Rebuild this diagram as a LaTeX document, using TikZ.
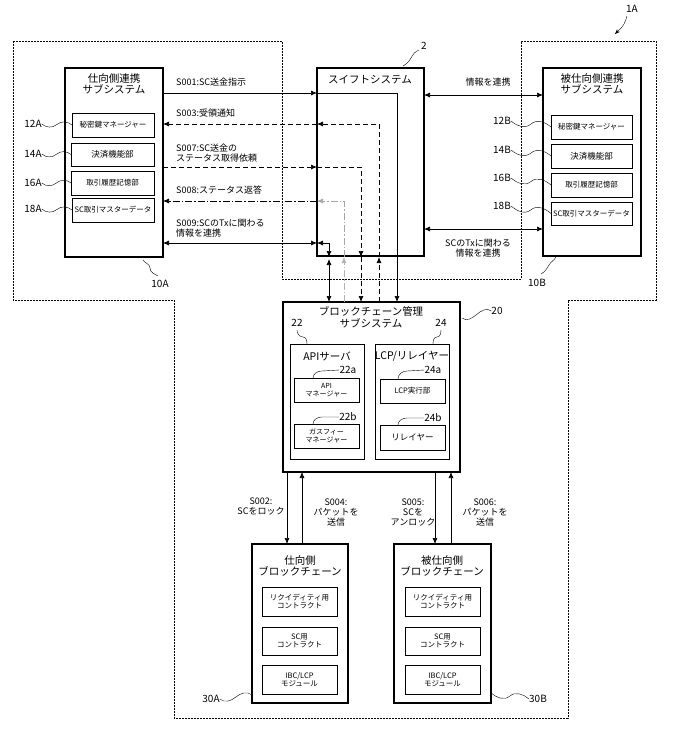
\documentclass[tikz,border=0pt]{standalone}
\usepackage{fontspec}
\setmainfont{Noto Sans CJK JP}
\usetikzlibrary{arrows.meta,calc}
\newcommand\bx[7]{\node[#6,minimum width={(#4-#2)*1pt},minimum height={(#5-#3)*1pt}] (#1) at ({(#2+#4)/2},{(#3+#5)/2}) {#7};}
\newcommand\wv[2]{\draw[thin] #1 to[out=-40,in=220] ($#1!0.5!#2$) to[out=40,in=140] #2;}
\begin{document}
\begin{tikzpicture}[x=1pt,y=-1pt,
 big/.style={draw,line width=1.8pt,inner sep=0pt,outer sep=0pt},
 mid/.style={draw,line width=0.8pt,inner sep=0pt,outer sep=0pt},
 sm/.style={draw,line width=0.8pt,inner sep=0pt,outer sep=0pt,font=\fontsize{7.5}{8}\selectfont,align=center},
 tt/.style={font=\fontsize{10.5}{11.5}\selectfont,align=center,inner sep=0pt},
 lb/.style={font=\fontsize{9}{10}\selectfont,align=left,inner sep=0pt,anchor=west},
 cl/.style={font=\fontsize{10}{10}\selectfont,inner sep=0pt},
 ar/.style={-{Latex[length=6pt,width=5pt]},line width=0.7pt},
 dar/.style={{Latex[length=6pt,width=5pt]}-{Latex[length=6pt,width=5pt]},line width=0.7pt},
 dsh/.style={dash pattern=on 5pt off 3pt},
 dd/.style={dash pattern=on 7pt off 2pt on 1.5pt off 2pt},
 outl/.style={line width=0.6pt,dash pattern=on 2pt off 1pt}]
\useasboundingbox (0,0) rectangle (673,732);
% outline
\draw[outl] (13,41) -- (282,41) -- (282,279) -- (521,279) -- (521,41) -- (656,41) -- (656,300) -- (568,300) -- (568,718) -- (174,718) -- (174,300) -- (13,300) -- cycle;
% 10A
\bx{a10}{65}{68}{163}{257}{big}{}
\node[tt] (a10t) at (114,84) {仕向側連携\\サブシステム};
\bx{a12}{72}{113}{154}{137}{sm}{秘密鍵マネージャー}
\bx{a14}{71}{143}{154}{166}{sm}{\fontsize{8.5}{9}\selectfont 決済機能部}
\bx{a16}{71}{171}{154}{195}{sm}{取引履歴記憶部}
\bx{a18}{72}{198}{154}{222}{sm}{SC取引マスターデータ}
% swift
\bx{s2}{317}{68}{424}{256}{big}{}
\node[tt] (s2t) at (370,80) {スイフトシステム};
% 10B
\bx{b10}{543}{68}{641}{256}{big}{}
\node[tt] (b10t) at (592,84) {被仕向側連携\\サブシステム};
\bx{b12}{551}{115}{632}{139}{sm}{秘密鍵マネージャー}
\bx{b14}{551}{144}{632}{168}{sm}{\fontsize{8.5}{9}\selectfont 決済機能部}
\bx{b16}{551}{173}{632}{197}{sm}{取引履歴記憶部}
\bx{b18}{551}{202}{632}{225}{sm}{SC取引マスターデータ}
% 20
\bx{m20}{283}{302}{460}{472}{big}{}
\node[tt] (m20t) at (371,317) {ブロックチェーン管理\\サブシステム};
\bx{m22}{290}{344}{364}{459}{mid}{}
\node[tt] (m22t) at (327,356) {APIサーバ};
\bx{m24}{375}{344}{449}{459}{mid}{}
\node[tt] (m24t) at (412,356) {LCP/リレイヤー};
\bx{m22a}{294}{378}{359}{402}{sm}{\fontsize{7}{7.5}\selectfont API\\\fontsize{7}{7.5}\selectfont マネージャー}
\bx{m22b}{294}{424}{359}{448}{sm}{\fontsize{7}{7.5}\selectfont ガスフィー\\\fontsize{7}{7.5}\selectfont マネージャー}
\bx{m24a}{380}{379}{445}{403}{sm}{LCP実行部}
\bx{m24b}{380}{425}{445}{450}{sm}{\fontsize{8.5}{9}\selectfont リレイヤー}
% 30A/30B
\bx{c30a}{252}{544}{348}{703}{big}{}
\node[tt] (c30at) at (300,566) {仕向側\\ブロックチェーン};
\bx{c30a1}{262}{587}{337}{616}{sm}{リクイディティ用\\コントラクト}
\bx{c30a2}{262}{627}{337}{655}{sm}{SC用\\コントラクト}
\bx{c30a3}{262}{665}{337}{694}{sm}{IBC/LCP\\モジュール}
\bx{c30b}{394}{544}{491}{703}{big}{}
\node[tt] (c30bt) at (442,566) {被仕向側\\ブロックチェーン};
\bx{c30b1}{405}{587}{480}{616}{sm}{リクイディティ用\\コントラクト}
\bx{c30b2}{405}{627}{480}{655}{sm}{SC用\\コントラクト}
\bx{c30b3}{405}{665}{480}{694}{sm}{IBC/LCP\\モジュール}
% arrows 10A - swift
\coordinate (p1) at (317,93);
\draw[ar] (a10.east |- p1) -- (p1);
\draw[ar] (p1) -| (397,302);
\node[lb] (l1) at (176,82) {S001:SC送金指示};
\coordinate (p3) at (379,257);
\draw[ar,dsh] (379,302) -- (p3);
\draw[ar,dsh] (p3) |- (317,124);
\draw[ar,dsh] (317,124) -- (a10.east |- 0,124);
\node[lb] (l3) at (176,113) {S003:受領通知};
\coordinate (p7) at (317,167);
\draw[ar,dsh] (a10.east |- p7) -- (p7);
\draw[ar,dsh] (p7) -| (361,257);
\draw[ar,dsh] (361,257) -- (361,302);
\node[lb] (l7) at (176,153) {S007:SC送金の\\ステータス取得依頼};
\draw[ar,dd,gray!60] (344,302) -- (344,257);
\draw[ar,dd,gray!70] (344,257) |- (317,201);
\draw[ar,dd] (317,201) -- (a10.east |- 0,201);
\node[lb] (l8) at (176,190) {S008:ステータス返答};
\coordinate (p9) at (317,243);
\draw[dar] (a10.east |- p9) -- (p9);
\draw[dar] (p9) -| (329,257);
\draw[dar] (329,259) -- (329,302);
\node[lb] (l9) at (176,228) {S009:SCのTxに関わる\\情報を連携};
% swift - 10B
\draw[dar] (s2.east |- 0,95) -- (b10.west |- 0,95);
\node[lb,anchor=center] (lr1) at (488,82) {情報を連携};
\draw[dar] (s2.east |- 0,229) -- (b10.west |- 0,229);
\node[lb,anchor=center,align=center] (lr2) at (478,248) {SCのTxに関わる\\情報を連携};
% 20 - 30
\draw[ar] (287,472) -- (287,544);
\draw[ar] (302,544) -- (302,472);
\draw[ar] (435,472) -- (435,544);
\draw[ar] (451,544) -- (451,472);
\node[lb,anchor=center,align=center] (l2) at (261,506) {S002:\\SCをロック};
\node[lb,anchor=center,align=center] (l4) at (336,512) {S004:\\パケットを\\送信};
\node[lb,anchor=center,align=center] (l5) at (413,512) {S005:\\SCを\\アンロック};
\node[lb,anchor=center,align=center] (l6) at (485,512) {S006:\\パケットを\\送信};
% callouts
\node[cl] (n12a) at (33,124) {12A}; \wv{(n12a.east)}{(a12.west)}
\node[cl] (n14a) at (33,154) {14A}; \wv{(n14a.east)}{(a14.west)}
\node[cl] (n16a) at (33,183) {16A}; \wv{(n16a.east)}{(a16.west)}
\node[cl] (n18a) at (33,209) {18A}; \wv{(n18a.east)}{(a18.west)}
\node[cl] (n12b) at (502,121) {12B}; \wv{(n12b.east)}{(b12.west)}
\node[cl] (n14b) at (502,150) {14B}; \wv{(n14b.east)}{(b14.west)}
\node[cl] (n16b) at (502,178) {16B}; \wv{(n16b.east)}{(b16.west)}
\node[cl] (n18b) at (502,206) {18B}; \wv{(n18b.east)}{(b18.west)}
\node[cl] (n10a) at (160,284) {10A};
\draw[thin] (143,260) to[out=-60,in=90] (150,268) to[out=-90,in=150] (158,276);
\node[cl] (n2) at (424,46) {2};
\draw[thin] (403,66) to[out=30,in=-120] (411,58) to[out=60,in=200] (419,50);
\node[cl] (n10b) at (537,283) {10B};
\draw[thin] (556,257) to[out=-120,in=60] (549,265) to[out=-120,in=30] (541,274);
\node[cl] (n1a) at (632,9) {1A};
\draw[thin,-{Stealth[length=5pt]}] (627,16) to[out=-110,in=60] (624,24) to[out=-120,in=45] (615,34);
\node[cl] (n20) at (497,311) {20}; \wv{(462,318)}{(n20.west)}
\node[cl] (n22) at (297,323) {22};
\draw[thin] (297,330) to[out=-90,in=180] (303,337) to[out=0,in=90] (307,344);
\node[cl] (n24) at (441,323) {24};
\draw[thin] (441,330) to[out=-90,in=0] (437,337) to[out=180,in=90] (433,344);
\node[cl] (n22a) at (348,370) {22a}; \draw[thin] (313,378) to[out=90,in=180] (322,371) -- (n22a.west);
\node[cl] (n22b) at (348,417) {22b}; \draw[thin] (313,424) to[out=90,in=180] (322,417) -- (n22b.west);
\node[cl] (n24a) at (433,370) {24a}; \draw[thin] (398,379) to[out=90,in=180] (407,371) -- (n24a.west);
\node[cl] (n24b) at (433,418) {24b}; \draw[thin] (398,425) to[out=90,in=180] (407,418) -- (n24b.west);
\node[cl] (n30a) at (211,699) {30A}; \wv{(n30a.east)}{(252,695)}
\node[cl] (n30b) at (538,699) {30B}; \wv{(491,693)}{(n30b.west)}
\end{tikzpicture}
\end{document}
